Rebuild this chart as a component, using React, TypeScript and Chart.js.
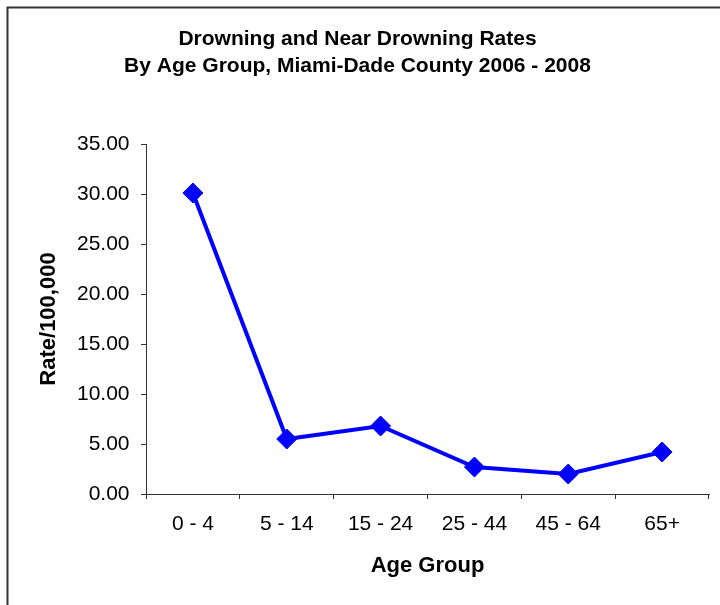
import React, { useEffect, useRef } from "react";
import { Chart, registerables } from "chart.js";

Chart.register(...registerables);

const titleLines = ["Drowning and Near Drowning Rates", "By Age Group, Miami-Dade County 2006 - 2008"];
const ageGroups = ["0 - 4", "5 - 14", "15 - 24", "25 - 44", "45 - 64", "65+"];
const rates = [30.1, 5.5, 6.8, 2.7, 2.0, 4.2];
const yAxisTitle = "Rate/100,000";
const xAxisTitle = "Age Group";
const yMin = 0;
const yMax = 35;
const yStep = 5;

const FONT = '"Liberation Sans", Arial, sans-serif';

const framePlugin = {
  id: "frame",
  afterDraw(chart: any) {
    const ctx = chart.ctx;
    ctx.save();
    ctx.strokeStyle = "#333333";
    ctx.lineWidth = 2;
    ctx.beginPath();
    ctx.moveTo(7.5, 605);
    ctx.lineTo(7.5, 7.5);
    ctx.lineTo(720, 7.5);
    ctx.stroke();
    ctx.restore();
  },
};

export default function App() {
  const ref = useRef<HTMLCanvasElement | null>(null);

  useEffect(() => {
    if (!ref.current) return;
    const chart = new Chart(ref.current, {
      type: "line",
      data: {
        labels: ageGroups,
        datasets: [
          {
            data: rates,
            borderColor: "#0000FF",
            backgroundColor: "#0000FF",
            borderWidth: 4,
            pointStyle: "rectRot",
            pointRadius: 10,
            pointBorderWidth: 1,
            pointBackgroundColor: "#0000FF",
            pointBorderColor: "#0000FF",
            tension: 0,
          },
        ],
      },
      options: {
        responsive: false,
        animation: false,
        layout: { padding: { left: 0, right: 5, top: 0, bottom: 0 } },
        plugins: {
          legend: { display: false },
          tooltip: { enabled: false },
          title: {
            display: true,
            text: titleLines,
            color: "#000000",
            font: { family: FONT, size: 21, weight: "bold", lineHeight: 27 / 21 },
            padding: { top: 25.5, bottom: 64.5 },
          },
        },
        scales: {
          x: {
            type: "category",
            offset: true,
            grid: {
              display: true,
              offset: true,
              drawOnChartArea: false,
              drawTicks: true,
              tickLength: 5,
              color: "#333333",
            },
            border: { display: true, color: "#333333", width: 1 },
            ticks: {
              color: "#000000",
              font: { family: FONT, size: 21 },
              padding: 13,
              maxRotation: 0,
              autoSkip: false,
            },
            title: {
              display: true,
              text: xAxisTitle,
              color: "#000000",
              font: { family: FONT, size: 22, weight: "bold" },
              padding: { top: 0, bottom: 25.8 },
            },
            afterFit(scale: any) {
              scale.height = 111;
            },
          },
          y: {
            min: yMin,
            max: yMax,
            grid: {
              display: true,
              drawOnChartArea: false,
              drawTicks: true,
              tickLength: 5,
              color: "#333333",
            },
            border: { display: true, color: "#333333", width: 1 },
            ticks: {
              stepSize: yStep,
              color: "#000000",
              font: { family: FONT, size: 21 },
              padding: 11.5,
              callback: (v: any) => Number(v).toFixed(2),
            },
            title: {
              display: true,
              text: yAxisTitle,
              color: "#000000",
              font: { family: FONT, size: 22, weight: "bold" },
              padding: { top: 35.3, bottom: 0 },
            },
            afterFit(scale: any) {
              scale.width = 146;
            },
          },
        },
      },
      plugins: [framePlugin],
    });
    return () => chart.destroy();
  }, []);

  return (
    <div style={{ position: "absolute", left: 0, top: 0, width: 720, height: 605, background: "#ffffff" }}>
      <canvas ref={ref} width={720} height={605} style={{ width: 720, height: 605, display: "block" }} />
    </div>
  );
}
